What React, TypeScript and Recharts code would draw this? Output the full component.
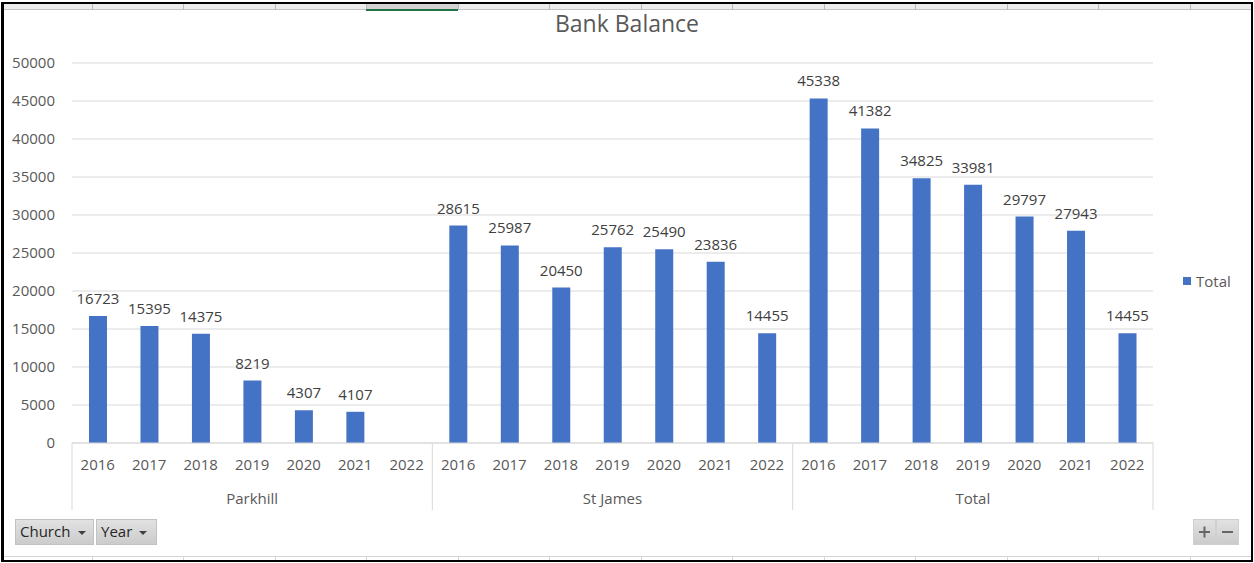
import React from 'react';
import { BarChart, Bar, XAxis, YAxis, CartesianGrid, LabelList, Legend } from 'recharts';

const churches = ['Parkhill', 'St James', 'Total'];
const years = ['2016', '2017', '2018', '2019', '2020', '2021', '2022'];
const parkhill: (number | null)[] = [16723, 15395, 14375, 8219, 4307, 4107, null];
const stJames: (number | null)[] = [28615, 25987, 20450, 25762, 25490, 23836, 14455];
const totals: (number | null)[] = [45338, 41382, 34825, 33981, 29797, 27943, 14455];
const yTicks = [0, 5000, 10000, 15000, 20000, 25000, 30000, 35000, 40000, 45000, 50000];
const seriesByChurch = [parkhill, stJames, totals];

const data = churches.flatMap((c, ci) =>
  years.map((y, yi) => ({ key: `${c}|${y}`, church: c, year: y, Total: seriesByChurch[ci][yi] }))
);

const W = 1254;
const H = 563;
const MARGIN = { top: 63, right: 101, bottom: 50, left: 10 };
const Y_AXIS_W = 62;
const X_AXIS_H = 70;
const PLOT_W = W - MARGIN.left - MARGIN.right - Y_AXIS_W;
const SLOT = PLOT_W / data.length;

const FONT = '"Open Sans", "Noto Sans", sans-serif';
const BLUE = '#4472C4';
const TICK = '#595959';
const GRID = '#d9d9d9';

function CategoryTick(props: any) {
  const { x, y, payload } = props;
  const idx: number = props.index ?? payload.index;
  const d = data[idx];
  if (!d) return null;
  const n = years.length;
  const pos = idx % n;
  return (
    <g>
      <text x={x} y={y + 27} textAnchor="middle" fontSize={15} fill={TICK} fontFamily={FONT}>
        {d.year}
      </text>
      {pos === 0 && (
        <line x1={x - SLOT / 2} x2={x - SLOT / 2} y1={y} y2={y + 67} stroke={GRID} strokeWidth={1} />
      )}
      {idx === data.length - 1 && (
        <line x1={x + SLOT / 2} x2={x + SLOT / 2} y1={y} y2={y + 67} stroke={GRID} strokeWidth={1} />
      )}
      {pos === Math.floor(n / 2) && (
        <text x={x} y={y + 61} textAnchor="middle" fontSize={15} fill={TICK} fontFamily={FONT}>
          {d.church}
        </text>
      )}
    </g>
  );
}

function LegendContent() {
  return (
    <div style={{ display: 'flex', alignItems: 'center', fontFamily: FONT, fontSize: 15, color: TICK, whiteSpace: 'nowrap' }}>
      <span style={{ display: 'inline-block', width: 8, height: 8, background: BLUE, marginRight: 5 }} />
      <span>Total</span>
    </div>
  );
}

const colXs = [92, 183, 275, 366, 458, 549, 641, 732, 824, 915, 1007, 1098, 1190];

function Overlay() {
  return (
    <svg width={W} height={H} style={{ position: 'absolute', left: 0, top: 0, pointerEvents: 'none' }}>
      <defs>
        <linearGradient id="btn" x1="0" y1="0" x2="0" y2="1">
          <stop offset="0" stopColor="#e2e2e2" />
          <stop offset="1" stopColor="#cbcbcb" />
        </linearGradient>
      </defs>
      {/* spreadsheet strip at top */}
      <rect x={4} y={4} width={1247} height={6} fill="#ececec" />
      <rect x={366} y={4} width={92} height={6} fill="#d3d3d3" />
      <line x1={4} x2={1251} y1={9.5} y2={9.5} stroke="#c4c4c4" strokeWidth={1} />
      {colXs.map((cx) => (
        <line key={'t' + cx} x1={cx + 0.5} x2={cx + 0.5} y1={4} y2={10} stroke="#b8b8b8" strokeWidth={1} />
      ))}
      <rect x={366} y={9} width={92} height={2} fill="#217346" />
      {/* spreadsheet strip at bottom */}
      <line x1={4} x2={1251} y1={556.5} y2={556.5} stroke="#d4d4d4" strokeWidth={1} />
      {colXs.map((cx) => (
        <line key={'b' + cx} x1={cx + 0.5} x2={cx + 0.5} y1={557} y2={560} stroke="#d4d4d4" strokeWidth={1} />
      ))}
      {/* frame */}
      <rect x={1} y={2} width={3} height={560} fill="#000" />
      <rect x={1} y={2} width={1252} height={2} fill="#000" />
      <rect x={1251} y={2} width={2} height={560} fill="#000" />
      <rect x={1} y={560} width={1252} height={2} fill="#000" />
      {/* title */}
      <text x={627} y={32} textAnchor="middle" fontSize={23} fill={TICK} fontFamily={FONT}>
        Bank Balance
      </text>
      {/* field buttons */}
      <rect x={15.5} y={519.5} width={78} height={25} fill="url(#btn)" stroke="#c2c2c2" />
      <text x={20} y={537} fontSize={15} fill="#262626" fontFamily={FONT}>Church</text>
      <polygon points="78,531 86,531 82,535" fill="#404040" />
      <rect x={96.5} y={519.5} width={60} height={25} fill="url(#btn)" stroke="#c2c2c2" />
      <text x={101} y={537} fontSize={15} fill="#262626" fontFamily={FONT}>Year</text>
      <polygon points="139,531 147,531 143,535" fill="#404040" />
      {/* zoom buttons */}
      <rect x={1193.5} y={519.5} width={22} height={25} fill="url(#btn)" stroke="#d0d0d0" />
      <rect x={1216.5} y={519.5} width={22} height={25} fill="url(#btn)" stroke="#d0d0d0" />
      <rect x={1199} y={531} width={11} height={2} fill="#666" />
      <rect x={1203.5} y={526.5} width={2} height={11} fill="#666" />
      <rect x={1222} y={531} width={11} height={2} fill="#666" />
    </svg>
  );
}

export default function App() {
  return (
    <div style={{ position: 'absolute', left: 0, top: 0, width: W, height: H, background: '#fff' }}>
      <BarChart width={W} height={H} data={data} margin={MARGIN} barCategoryGap="33%">
        <CartesianGrid vertical={false} stroke={GRID} strokeWidth={1} />
        <XAxis
          dataKey="key"
          interval={0}
          height={X_AXIS_H}
          tickLine={false}
          tickSize={0}
          tickMargin={0}
          axisLine={{ stroke: GRID }}
          tick={<CategoryTick />}
        />
        <YAxis
          width={Y_AXIS_W}
          domain={[0, 50000]}
          ticks={yTicks}
          interval={0}
          axisLine={false}
          tickLine={false}
          tickMargin={11}
          tick={{ fontSize: 15, fill: TICK, fontFamily: FONT }}
        />
        <Legend
          layout="vertical"
          align="center"
          verticalAlign="middle"
          content={<LegendContent />}
          wrapperStyle={{ left: 1183, top: 271, width: 70, height: 22 }}
        />
        <Bar dataKey="Total" name="Total" fill={BLUE} isAnimationActive={false}>
          <LabelList dataKey="Total" position="top" offset={12} fontSize={15} fill="#404040" fontFamily={FONT} />
        </Bar>
      </BarChart>
      <Overlay />
    </div>
  );
}
